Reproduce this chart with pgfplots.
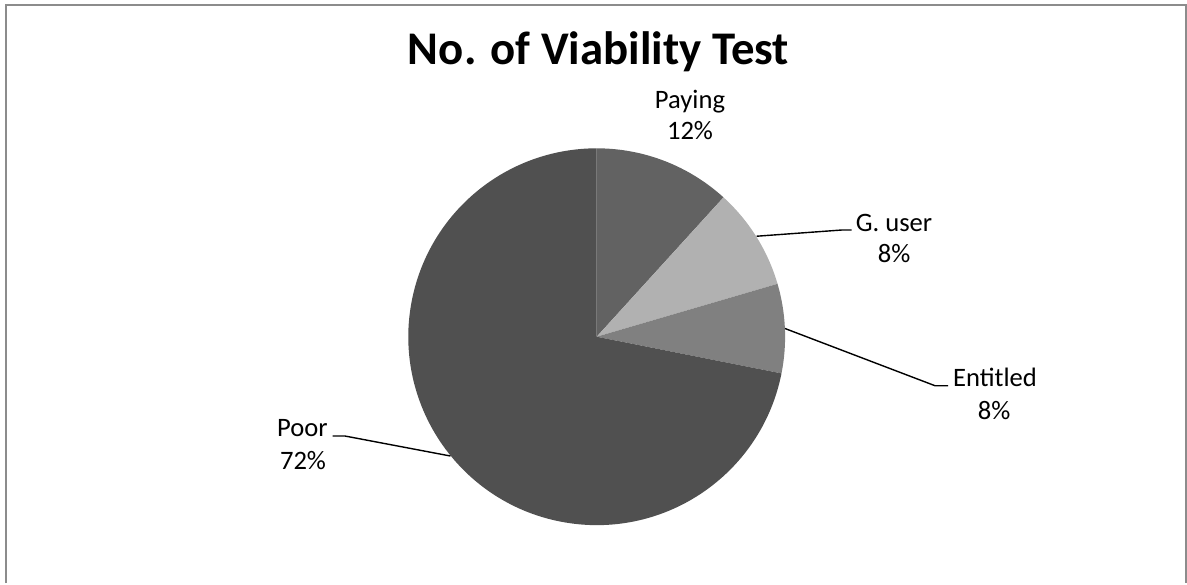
\documentclass[border=0pt]{standalone}
\usepackage{pgfplots}
\pgfplotsset{compat=1.18}
\usepackage{fontspec}
\setmainfont{Carlito}
\definecolor{cPay}{HTML}{626262}
\definecolor{cGu}{HTML}{B1B1B1}
\definecolor{cEnt}{HTML}{808080}
\definecolor{cPoor}{HTML}{505050}
\definecolor{cFrame}{HTML}{8C8C8C}
\begin{document}
\begin{tikzpicture}
% slice shares (percent) used for the geometry; labels show rounded values
\def\vPay{11.75}\def\vGu{8.72}\def\vEnt{7.65}\def\vPoor{71.88}
\pgfmathsetmacro{\aA}{90}
\pgfmathsetmacro{\aB}{\aA-3.6*\vPay}
\pgfmathsetmacro{\aC}{\aB-3.6*\vGu}
\pgfmathsetmacro{\aD}{\aC-3.6*\vEnt}
\pgfmathsetmacro{\aE}{\aD-3.6*\vPoor}
\def\R{94.2pt}
\begin{axis}[hide axis, scale only axis, width=593.5pt, height=291.5pt,
  xmin=0, xmax=1187, ymin=0, ymax=583, y dir=reverse, clip=false]
\path (axis cs:0,0) rectangle (axis cs:1187,583);
\draw[cFrame, line width=1pt] (axis cs:6,583) -- (axis cs:6,5) -- (axis cs:1186,5) -- (axis cs:1186,583);
% title
\node[anchor=base, font=\fontsize{23.4}{28}\selectfont\bfseries] at (axis cs:598.5,64) {No. of Viability Test};
% wedges
\fill[cPay] (axis cs:596.7,336.7) -- ++(\aA:\R) arc[start angle=\aA, end angle=\aB, radius=\R] -- cycle;
\fill[cGu] (axis cs:596.7,336.7) -- ++(\aB:\R) arc[start angle=\aB, end angle=\aC, radius=\R] -- cycle;
\fill[cEnt] (axis cs:596.7,336.7) -- ++(\aC:\R) arc[start angle=\aC, end angle=\aD, radius=\R] -- cycle;
\fill[cPoor] (axis cs:596.7,336.7) -- ++(\aD:\R) arc[start angle=\aD, end angle=\aE, radius=\R] -- cycle;
% leader lines
\draw[black, line width=0.7pt] (axis cs:756.7,236.2) -- (axis cs:841.7,230) -- (axis cs:851.7,230);
\draw[black, line width=0.7pt] (axis cs:785,328.5) -- (axis cs:935,385.7) -- (axis cs:948,385.7);
\draw[black, line width=0.7pt] (axis cs:450.5,456) -- (axis cs:345,436) -- (axis cs:332.7,436);
% labels
\tikzset{lab/.style={anchor=base, font=\fontsize{13.3}{16}\selectfont, inner sep=0pt}}
\node[lab] at (axis cs:690,108.3) {Paying};
\node[lab] at (axis cs:690,139.3) {12\%};
\node[lab] at (axis cs:894,231.7) {G. user};
\node[lab] at (axis cs:894,262.7) {8\%};
\node[lab] at (axis cs:995,386.7) {Entitled};
\node[lab] at (axis cs:994,419) {8\%};
\node[lab] at (axis cs:302.5,436.7) {Poor};
\node[lab] at (axis cs:303,469) {72\%};
\end{axis}
\end{tikzpicture}
\end{document}
